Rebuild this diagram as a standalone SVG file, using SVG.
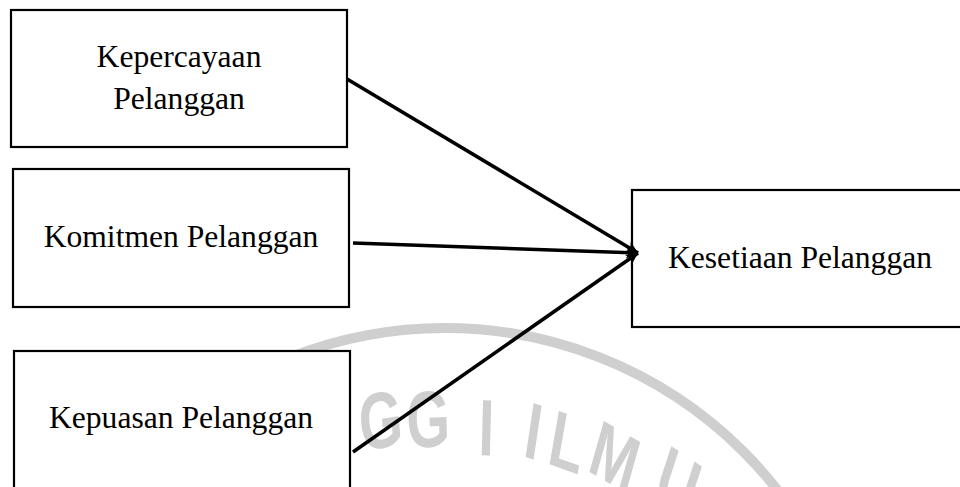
<svg xmlns="http://www.w3.org/2000/svg" width="960" height="487" viewBox="0 0 960 487">
<style>
.box{fill:#fff;stroke:#000;stroke-width:2.2}
.lbl{font-family:"Liberation Serif","Times New Roman",serif;font-size:31.6px;fill:#000;text-anchor:middle}
.edge{stroke:#000;stroke-width:3.6;fill:none;marker-end:url(#ah)}
.wm{fill:none;stroke:#cfcfcf;stroke-width:10}
.wmt{font-family:"Liberation Sans",Arial,sans-serif;font-size:80px;font-weight:bold;fill:#cfcfcf}
</style>
<defs>
<marker id="ah" markerUnits="userSpaceOnUse" markerWidth="14" markerHeight="12" refX="12" refY="6" orient="auto">
<path d="M0,0 L12,6 L0,12 L3,6 Z" fill="#000"/>
</marker>
</defs>
<g id="watermark">
<circle class="wm" cx="445" cy="750" r="422"/>
<text class="wmt" transform="scale(0.7,1)" x="515.7 581.4 682.9 714.3 745.7 780 837.1 931.4" y="451 448 455 456 456 463 470 494" rotate="-6 -2 2 5 12 14 22 25">GGI ILMU</text>
</g>
<g id="kepercayaan">
<rect class="box" x="11" y="10" width="336" height="137"/>
<text class="lbl" x="179" y="67">Kepercayaan</text>
<text class="lbl" x="179" y="109">Pelanggan</text>
</g>
<g id="komitmen">
<rect class="box" x="13" y="169" width="336" height="138"/>
<text class="lbl" x="181" y="247">Komitmen Pelanggan</text>
</g>
<g id="kepuasan">
<rect class="box" x="14" y="351" width="336" height="150"/>
<text class="lbl" x="181" y="428">Kepuasan Pelanggan</text>
</g>
<g id="kesetiaan">
<rect class="box" x="632" y="190" width="332" height="137"/>
<text class="lbl" x="800" y="268">Kesetiaan Pelanggan</text>
</g>
<g id="connectors">
<line class="edge" x1="347" y1="79" x2="638" y2="253"/>
<line class="edge" x1="353" y1="243" x2="638" y2="253"/>
<line class="edge" x1="353" y1="452" x2="638" y2="253"/>
</g>
</svg>
